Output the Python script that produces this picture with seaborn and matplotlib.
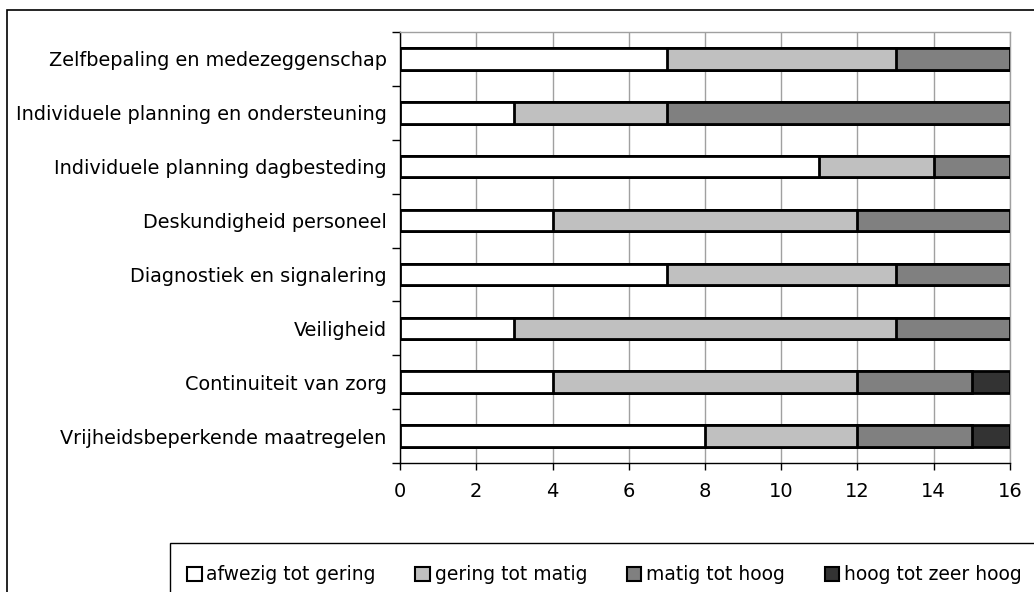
import numpy as np
import pandas as pd
import matplotlib
matplotlib.use('Agg')
import matplotlib.pyplot as plt
from matplotlib.patches import Patch, Rectangle
import seaborn as sns

# Data
categories = ['Zelfbepaling en medezeggenschap',
              'Individuele planning en ondersteuning',
              'Individuele planning dagbesteding',
              'Deskundigheid personeel',
              'Diagnostiek en signalering',
              'Veiligheid',
              'Continuiteit van zorg',
              'Vrijheidsbeperkende maatregelen']
series_names = ['afwezig tot gering', 'gering tot matig', 'matig tot hoog', 'hoog tot zeer hoog']
afwezig = [7, 3, 11, 4, 7, 3, 4, 8]
gering = [6, 4, 3, 8, 6, 10, 8, 4]
matig = [3, 9, 2, 4, 3, 3, 3, 3]
hoog = [0, 0, 0, 0, 0, 0, 1, 1]
colors = ['#FFFFFF', '#C0C0C0', '#808080', '#333333']
x_ticks = list(range(0, 17, 2))

sns.set_style("white")
plt.rcParams['font.family'] = ['DejaVu Sans']
plt.rcParams['text.color'] = 'black'
plt.rcParams['xtick.color'] = 'black'
plt.rcParams['ytick.color'] = 'black'

df = pd.DataFrame({'cat': categories, series_names[0]: afwezig, series_names[1]: gering,
                   series_names[2]: matig, series_names[3]: hoog})
cum = df[series_names].cumsum(axis=1)

fig = plt.figure(figsize=(10.34, 5.92), dpi=100)
ax = fig.add_axes([400 / 1034, 1 - 463 / 592, 610 / 1034, 431 / 592])

# stacked bars: draw cumulative totals from the back to the front
for name, col in reversed(list(zip(series_names, colors))):
    sns.barplot(x=cum[name], y=df['cat'], orient='h', color=col, edgecolor='black',
                linewidth=2, width=0.4, saturation=1, ax=ax, zorder=3)

ax.set_xlim(0, 16)
ax.set_ylim(len(categories) - 0.5, -0.5)
ax.set_xticks(x_ticks)
ax.set_xlabel('')
ax.set_ylabel('')
ax.grid(axis='x', color='#A0A0A0', linewidth=1, zorder=0)
ax.set_axisbelow(True)

ax.tick_params(axis='x', labelsize=14, length=5, width=1, direction='out', pad=9, bottom=True)
ax.tick_params(axis='y', which='major', labelsize=13.9, length=0, pad=9.5)
ax.set_yticks(np.arange(-0.5, len(categories), 1), minor=True)
ax.tick_params(axis='y', which='minor', length=6, width=1, direction='out', left=True)

for side in ['left', 'bottom']:
    ax.spines[side].set_color('black')
    ax.spines[side].set_linewidth(1)
for side in ['top', 'right']:
    ax.spines[side].set_color('#A0A0A0')
    ax.spines[side].set_linewidth(1)

# outer chart frame
fig.patches.append(Rectangle((7 / 1034, -0.1), 1.1, 1 - 10 / 592 + 0.1, transform=fig.transFigure,
                             fill=False, edgecolor='black', linewidth=1.2))
# legend frame (runs off the right and bottom edges)
fig.patches.append(Rectangle((170 / 1034, -0.1), 1.0, 1 - 543 / 592 + 0.1, transform=fig.transFigure,
                             fill=False, edgecolor='black', linewidth=1))

handles = [Patch(facecolor=c, edgecolor='black', linewidth=1.5) for c in colors]
leg = fig.legend(handles, series_names, loc='center left', bbox_to_anchor=(187 / 1034, 1 - 575 / 592),
                 ncol=4, frameon=False, fontsize=13.5,
                 handlelength=0.78, handleheight=0.78, handletextpad=0.26, columnspacing=2.1,
                 borderpad=0, borderaxespad=0)

plt.savefig('out.png', dpi=100)
